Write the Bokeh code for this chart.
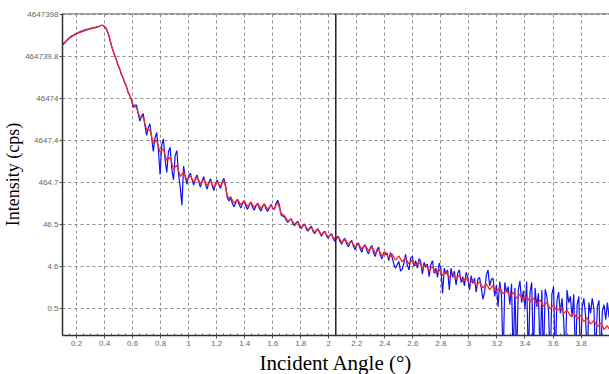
import numpy as np
from bokeh.embed import file_html
from bokeh.models import FixedTicker, Span, Title
from bokeh.plotting import figure
from bokeh.resources import INLINE

# Incident angle of each scan point (degrees)
angle_deg = [
    0.100, 0.112, 0.124, 0.136, 0.148, 0.160, 0.172, 0.184, 0.196, 0.208,
    0.220, 0.232, 0.244, 0.256, 0.268, 0.280, 0.292, 0.304, 0.316, 0.328,
    0.340, 0.352, 0.364, 0.376, 0.388, 0.400, 0.412, 0.424, 0.436, 0.448,
    0.460, 0.472, 0.484, 0.496, 0.508, 0.520, 0.532, 0.544, 0.556, 0.568,
    0.580, 0.592, 0.604, 0.616, 0.628, 0.640, 0.652, 0.664, 0.676, 0.688,
    0.700, 0.712, 0.724, 0.736, 0.748, 0.760, 0.772, 0.784, 0.796, 0.808,
    0.820, 0.832, 0.844, 0.856, 0.868, 0.880, 0.892, 0.904, 0.916, 0.928,
    0.940, 0.952, 0.964, 0.976, 0.988, 1.000, 1.012, 1.024, 1.036, 1.048,
    1.060, 1.072, 1.084, 1.096, 1.108, 1.120, 1.132, 1.144, 1.156, 1.168,
    1.180, 1.192, 1.204, 1.216, 1.228, 1.240, 1.252, 1.264, 1.276, 1.288,
    1.300, 1.312, 1.324, 1.336, 1.348, 1.360, 1.372, 1.384, 1.396, 1.408,
    1.420, 1.432, 1.444, 1.456, 1.468, 1.480, 1.492, 1.504, 1.516, 1.528,
    1.540, 1.552, 1.564, 1.576, 1.588, 1.600, 1.612, 1.624, 1.636, 1.648,
    1.660, 1.672, 1.684, 1.696, 1.708, 1.720, 1.732, 1.744, 1.756, 1.768,
    1.780, 1.792, 1.804, 1.816, 1.828, 1.840, 1.852, 1.864, 1.876, 1.888,
    1.900, 1.912, 1.924, 1.936, 1.948, 1.960, 1.972, 1.984, 1.996, 2.008,
    2.020, 2.032, 2.044, 2.056, 2.068, 2.080, 2.092, 2.104, 2.116, 2.128,
    2.140, 2.152, 2.164, 2.176, 2.188, 2.200, 2.212, 2.224, 2.236, 2.248,
    2.260, 2.272, 2.284, 2.296, 2.308, 2.320, 2.332, 2.344, 2.356, 2.368,
    2.380, 2.392, 2.404, 2.416, 2.428, 2.440, 2.452, 2.464, 2.476, 2.488,
    2.500, 2.512, 2.524, 2.536, 2.548, 2.560, 2.572, 2.584, 2.596, 2.608,
    2.620, 2.632, 2.644, 2.656, 2.668, 2.680, 2.692, 2.704, 2.716, 2.728,
    2.740, 2.752, 2.764, 2.776, 2.788, 2.800, 2.812, 2.824, 2.836, 2.848,
    2.860, 2.872, 2.884, 2.896, 2.908, 2.920, 2.932, 2.944, 2.956, 2.968,
    2.980, 2.992, 3.004, 3.016, 3.028, 3.040, 3.052, 3.064, 3.076, 3.088,
    3.100, 3.112, 3.124, 3.136, 3.148, 3.160, 3.172, 3.184, 3.196, 3.208,
    3.220, 3.232, 3.244, 3.256, 3.268, 3.280, 3.292, 3.304, 3.316, 3.328,
    3.340, 3.352, 3.364, 3.376, 3.388, 3.400, 3.412, 3.424, 3.436, 3.448,
    3.460, 3.472, 3.484, 3.496, 3.508, 3.520, 3.532, 3.544, 3.556, 3.568,
    3.580, 3.592, 3.604, 3.616, 3.628, 3.640, 3.652, 3.664, 3.676, 3.688,
    3.700, 3.712, 3.724, 3.736, 3.748, 3.760, 3.772, 3.784, 3.796, 3.808,
    3.820, 3.832, 3.844, 3.856, 3.868, 3.880, 3.892, 3.904, 3.916, 3.928,
    3.940, 3.952, 3.964, 3.976, 3.988, 4.000,
]

# Measured reflectivity, log10(cps)
measured_log_cps = [
    5.94, 5.99, 6.02, 6.07, 6.10, 6.14, 6.16, 6.18, 6.21, 6.22,
    6.24, 6.26, 6.27, 6.29, 6.30, 6.31, 6.32, 6.33, 6.34, 6.35,
    6.36, 6.37, 6.38, 6.40, 6.40, 6.37, 6.32, 6.22, 6.09, 5.93,
    5.80, 5.68, 5.59, 5.45, 5.37, 5.23, 5.16, 5.03, 4.95, 4.80,
    4.74, 4.62, 4.45, 4.50, 4.50, 4.30, 4.12, 4.24, 4.30, 4.02,
    3.78, 3.97, 4.06, 3.72, 3.40, 3.72, 3.85, 3.45, 2.85, 3.55,
    3.70, 3.20, 2.90, 3.40, 3.50, 2.98, 2.72, 3.30, 3.42, 2.85,
    2.55, 2.12, 3.05, 2.78, 2.62, 2.82, 2.88, 2.73, 2.60, 2.76,
    2.84, 2.68, 2.55, 2.70, 2.80, 2.62, 2.50, 2.66, 2.75, 2.58,
    2.47, 2.63, 2.72, 2.60, 2.52, 2.68, 2.76, 2.58, 2.30, 2.22,
    2.30, 2.16, 2.08, 2.18, 2.26, 2.14, 2.05, 2.15, 2.22, 2.10,
    2.02, 2.12, 2.19, 2.07, 2.00, 2.10, 2.16, 2.05, 1.98, 2.08,
    2.15, 2.03, 1.97, 2.06, 2.14, 2.04, 2.02, 2.16, 2.24, 2.12,
    1.88, 1.86, 1.84, 1.76, 1.71, 1.77, 1.80, 1.68, 1.63, 1.71,
    1.74, 1.60, 1.56, 1.64, 1.67, 1.55, 1.50, 1.58, 1.62, 1.49,
    1.44, 1.53, 1.56, 1.45, 1.38, 1.47, 1.50, 1.39, 1.33, 1.41,
    1.44, 1.32, 1.26, 1.35, 1.38, 1.25, 1.19, 1.29, 1.33, 1.20,
    1.13, 1.24, 1.28, 1.14, 1.06, 1.18, 1.22, 1.08, 1.00, 1.14,
    1.18, 1.03, 0.96, 1.10, 1.16, 0.98, 0.90, 1.06, 1.12, 0.92,
    0.84, 1.00, 0.94, 0.98, 0.80, 0.99, 0.88, 0.72, 0.62, 0.70,
    0.78, 0.55, 0.60, 0.74, 0.95, 0.70, 0.58, 0.86, 0.90, 0.66,
    0.80, 0.62, 0.85, 0.78, 0.48, 0.76, 0.64, 0.72, 0.42, 0.70,
    0.80, 0.50, 0.62, 0.40, 0.74, 0.60, 0.02, 0.62, 0.48, 0.58,
    0.10, 0.62, 0.40, 0.55, 0.22, 0.50, 0.58, 0.28, 0.42, 0.20,
    0.52, 0.40, 0.10, 0.44, 0.26, 0.38, 0.05, 0.36, 0.40, 0.15,
    -0.12, 0.05, 0.45, 0.58, 0.20, 0.35, 0.38, -0.05, 0.22, -0.30,
    0.30, -0.02, -1.60, 0.28, 0.05, 0.18, -0.25, 0.25, -1.60, 0.15,
    -1.60, 0.10, 0.32, -0.20, 0.08, -0.35, 0.30, -1.60, 0.05, 0.28,
    -1.60, 0.15, -0.30, 0.02, -1.60, 0.10, -1.60, 0.12, -0.05, -0.40,
    -1.60, 0.00, 0.18, -1.60, -0.15, 0.05, -0.45, -0.10, -0.60, -1.60,
    0.10, -0.20, -0.05, -0.55, 0.00, -1.60, -0.25, -0.05, -1.60, -0.30,
    -0.10, -0.50, -1.60, -0.20, -0.45, -0.10, -0.35, -1.60, -0.30, -0.15,
    -1.60, -0.40, -0.25, -0.60, -0.20, -0.55,
]

# Fitted reflectivity model, log10(cps)
fit_log_cps = [
    5.93, 5.97, 6.01, 6.05, 6.09, 6.12, 6.15, 6.17, 6.19, 6.21,
    6.23, 6.24, 6.26, 6.27, 6.29, 6.30, 6.31, 6.32, 6.33, 6.34,
    6.35, 6.36, 6.38, 6.40, 6.40, 6.38, 6.33, 6.24, 6.10, 5.95,
    5.81, 5.70, 5.58, 5.47, 5.36, 5.25, 5.15, 5.05, 4.94, 4.83,
    4.72, 4.64, 4.51, 4.46, 4.44, 4.33, 4.22, 4.21, 4.22, 4.06,
    3.91, 3.91, 3.92, 3.75, 3.60, 3.63, 3.67, 3.52, 3.38, 3.42,
    3.46, 3.32, 3.18, 3.22, 3.26, 3.12, 2.98, 3.03, 3.07, 2.94,
    2.80, 2.86, 2.91, 2.81, 2.72, 2.77, 2.83, 2.75, 2.67, 2.73,
    2.79, 2.71, 2.63, 2.68, 2.74, 2.66, 2.58, 2.64, 2.70, 2.62,
    2.54, 2.61, 2.68, 2.62, 2.57, 2.64, 2.70, 2.55, 2.34, 2.29,
    2.32, 2.24, 2.17, 2.21, 2.26, 2.20, 2.13, 2.18, 2.23, 2.16,
    2.09, 2.14, 2.20, 2.13, 2.07, 2.12, 2.17, 2.11, 2.04, 2.10,
    2.15, 2.08, 2.02, 2.07, 2.13, 2.06, 2.03, 2.12, 2.18, 2.06,
    1.92, 1.90, 1.87, 1.80, 1.74, 1.76, 1.79, 1.72, 1.66, 1.69,
    1.71, 1.65, 1.59, 1.62, 1.65, 1.59, 1.53, 1.56, 1.59, 1.53,
    1.47, 1.51, 1.54, 1.48, 1.42, 1.45, 1.48, 1.42, 1.36, 1.39,
    1.42, 1.36, 1.30, 1.33, 1.36, 1.30, 1.24, 1.27, 1.30, 1.25,
    1.19, 1.22, 1.25, 1.19, 1.13, 1.16, 1.19, 1.14, 1.08, 1.12,
    1.16, 1.10, 1.04, 1.07, 1.12, 1.05, 0.97, 1.02, 1.06, 0.99,
    0.91, 0.96, 1.01, 0.93, 0.86, 0.91, 0.96, 0.88, 0.81, 0.86,
    0.91, 0.84, 0.77, 0.82, 0.87, 0.79, 0.72, 0.77, 0.82, 0.75,
    0.68, 0.72, 0.77, 0.69, 0.62, 0.66, 0.71, 0.64, 0.56, 0.61,
    0.65, 0.58, 0.50, 0.55, 0.59, 0.52, 0.45, 0.50, 0.55, 0.47,
    0.40, 0.45, 0.50, 0.43, 0.36, 0.41, 0.45, 0.38, 0.30, 0.35,
    0.39, 0.32, 0.25, 0.29, 0.34, 0.27, 0.20, 0.25, 0.29, 0.22,
    0.15, 0.20, 0.25, 0.18, 0.11, 0.16, 0.21, 0.13, 0.06, 0.11,
    0.16, 0.08, 0.01, 0.05, 0.10, 0.02, -0.05, 0.00, 0.04, -0.03,
    -0.10, -0.05, 0.00, -0.08, -0.15, -0.10, -0.05, -0.12, -0.19, -0.14,
    -0.09, -0.17, -0.24, -0.19, -0.14, -0.21, -0.29, -0.24, -0.20, -0.27,
    -0.35, -0.30, -0.25, -0.33, -0.40, -0.36, -0.31, -0.39, -0.46, -0.42,
    -0.37, -0.45, -0.52, -0.48, -0.44, -0.51, -0.59, -0.55, -0.50, -0.58,
    -0.65, -0.61, -0.56, -0.64, -0.71, -0.67, -0.62, -0.70, -0.77, -0.73,
    -0.69, -0.76, -0.84, -0.80, -0.75, -0.83,
]

x_tick_values = [0.2, 0.4, 0.6, 0.8, 1.0, 1.2, 1.4, 1.6, 1.8, 2.0,
                 2.2, 2.4, 2.6, 2.8, 3.0, 3.2, 3.4, 3.6, 3.8]
x_tick_labels = ["0.2", "0.4", "0.6", "0.8", "1", "1.2", "1.4", "1.6", "1.8", "2",
                 "2.2", "2.4", "2.6", "2.8", "3", "3.2", "3.4", "3.6", "3.8"]

y_tick_values = [0.4647398, 4.647398, 46.47398, 464.7398,
                 4647.398, 46473.98, 464739.8, 4647398]
y_tick_labels = ["0.5", "4.6", "46.5", "464.7",
                 "4647.4", "46474", "464739.8", "4647398"]

cursor_angle = 2.05

measured_cps = 10 ** np.array(measured_log_cps)
fit_cps = 10 ** np.array(fit_log_cps)

p = figure(
    width=609, height=374,
    y_axis_type="log",
    x_range=(0.1, 4.003), y_range=(0.104, 4.83e6),
    output_backend="svg", toolbar_location=None,
    min_border_left=61, min_border_right=0,
    min_border_top=13, min_border_bottom=39,
)
p.outline_line_color = None
p.background_fill_color = "white"
p.border_fill_color = "white"

# grids
for g in (p.xgrid, p.ygrid):
    g.grid_line_color = "#8c8c8c"
    g.grid_line_dash = "3 3"
    g.grid_line_width = 1

# x axis
p.xaxis.ticker = FixedTicker(
    ticks=x_tick_values,
    minor_ticks=[round(0.1 + 0.05 * k, 2) for k in range(79)],
)
p.xaxis.major_label_overrides = dict(zip(x_tick_values, x_tick_labels))

# y axis
p.yaxis.ticker = FixedTicker(ticks=y_tick_values, minor_ticks=[])
p.yaxis.major_label_overrides = dict(zip(y_tick_values, y_tick_labels))

for ax in (p.xaxis, p.yaxis):
    ax.axis_line_color = "#303030"
    ax.axis_line_width = 1.5
    ax.major_tick_line_color = "#505050"
    ax.major_tick_out = 3
    ax.major_tick_in = 0
    ax.minor_tick_line_color = "#505050"
    ax.minor_tick_out = 0
    ax.minor_tick_in = 2
    ax.major_label_text_font = "Liberation Sans"
    ax.major_label_text_font_size = "8px"
    ax.major_label_text_color = "#666666"
p.xaxis.major_label_standoff = 2
p.yaxis.major_label_standoff = 1

# frame top edge and cursor line
p.add_layout(Span(location=4.83e6, dimension="width",
                  line_color="#404040", line_width=1.5))
p.add_layout(Span(location=cursor_angle, dimension="height",
                  line_color="#202020", line_width=1.5))

# curves
p.line(angle_deg, measured_cps, line_color="#1010f0", line_width=1.2)
p.line(angle_deg, fit_cps, line_color="#ff2424", line_width=1.3)

# axis titles
p.add_layout(Title(
    text="Incident Angle (°)", align="center", offset=28, standoff=0,
    text_font="Liberation Serif", text_font_size="21px",
    text_font_style="normal", text_color="black",
), "below")
p.add_layout(Title(
    text="Intensity (cps)", align="center", offset=-6, standoff=0,
    text_font="Liberation Serif", text_font_size="18px",
    text_font_style="normal", text_color="black",
), "left")

open("out.html", "w").write(file_html(p, INLINE))
